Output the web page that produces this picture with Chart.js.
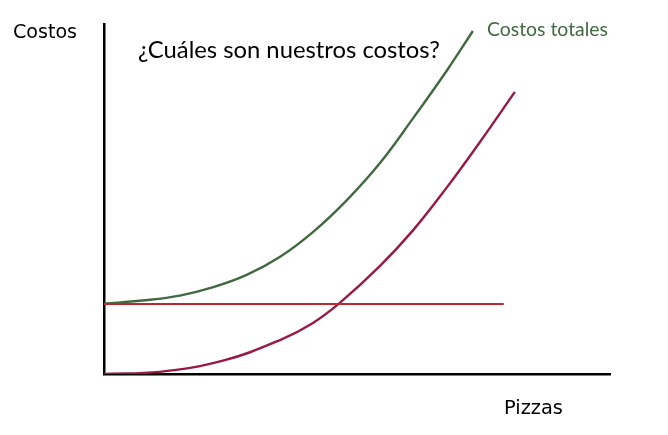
<!DOCTYPE html>
<html>
<head>
<meta charset="utf-8">
<script src="https://cdn.jsdelivr.net/npm/chart.js@4/dist/chart.umd.min.js"></script>
<style>
html,body{margin:0;padding:0;background:#fff;}
#wrap{width:668px;height:435px;position:relative;}
</style>
</head>
<body>
<div id="wrap"><canvas id="c" width="668" height="435"></canvas></div>
<script>
// Data (x: pizzas, y: costos) in arbitrary units
const totalX = [0, 7.5, 15.0, 21.6, 28.2, 34.8, 41.4, 48.0, 54.5, 61.1, 67.8, 72.9];
const totalY = [20.1, 21.0, 22.4, 24.8, 28.3, 33.5, 40.7, 49.7, 60.2, 73.1, 86.8, 98.0];
const variableX = [0, 11.0, 23.5, 34.8, 41.3, 46.6, 54.5, 61.1, 67.8, 74.3, 81.2];
const variableY = [0, 0.6, 3.8, 9.7, 14.6, 20.3, 30.8, 41.1, 53.4, 66.3, 80.6];
const fixedX = [0, 79];
const fixedY = [20, 20];
const labels = {
  yAxis: "Costos",
  xAxis: "Pizzas",
  title: "¿Cuáles son nuestros costos?",
  total: "Costos totales"
};

const toPts = (xs, ys) => xs.map((x, i) => ({x: x, y: ys[i]}));

const textPlugin = {
  id: 'texts',
  afterDraw(chart) {
    const ctx = chart.ctx;
    ctx.save();
    ctx.textBaseline = 'alphabetic';
    ctx.textAlign = 'left';
    const fit = (txt, family, target, base) => {
      ctx.font = base + 'px ' + family;
      const w = ctx.measureText(txt).width;
      const size = base * target / w;
      ctx.font = size.toFixed(2) + 'px ' + family;
    };
    ctx.fillStyle = '#000';
    fit(labels.yAxis, '"DejaVu Sans"', 64, 18);
    ctx.fillText(labels.yAxis, 13, 38);
    fit(labels.xAxis, '"DejaVu Sans"', 59, 18);
    ctx.fillText(labels.xAxis, 504, 414);
    fit(labels.title, 'Lato', 302, 21);
    ctx.fillText(labels.title, 138, 58);
    ctx.fillStyle = '#3f6a3f';
    fit(labels.total, 'Lato', 121, 18);
    ctx.fillText(labels.total, 487, 36);
    ctx.restore();
  }
};

new Chart(document.getElementById('c'), {
  type: 'line',
  data: {
    datasets: [
      {data: toPts(fixedX, fixedY), borderColor: '#c0282f', borderWidth: 2.2, pointRadius: 0, tension: 0},
      {data: toPts(variableX, variableY), borderColor: '#981a44', borderWidth: 2.4, pointRadius: 0, tension: 0.4},
      {data: toPts(totalX, totalY), borderColor: '#41693f', borderWidth: 2.4, pointRadius: 0, tension: 0.4}
    ]
  },
  options: {
    responsive: false,
    animation: false,
    layout: {padding: {left: 104, right: 58, top: 24, bottom: 61}},
    plugins: {legend: {display: false}, tooltip: {enabled: false}, title: {display: false}},
    scales: {
      x: {
        type: 'linear', min: 0, max: 100,
        ticks: {display: false},
        grid: {display: false, drawTicks: false},
        border: {display: true, color: '#000', width: 2.5}
      },
      y: {
        type: 'linear', min: 0, max: 100,
        ticks: {display: false},
        grid: {display: false, drawTicks: false},
        border: {display: true, color: '#000', width: 2.5}
      }
    }
  },
  plugins: [textPlugin]
});
</script>
</body>
</html>
